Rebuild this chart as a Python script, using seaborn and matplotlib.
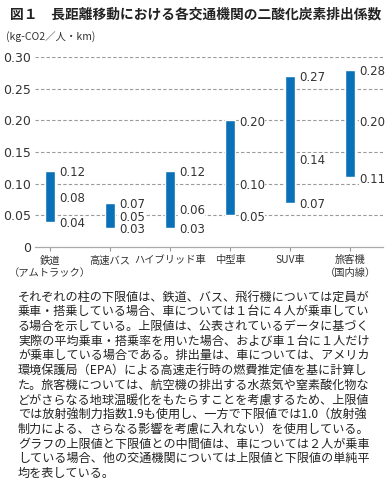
# %%
# 長距離移動における各交通機関の二酸化炭素排出係数
import numpy as np
import pandas as pd
import matplotlib
matplotlib.use('Agg')
import matplotlib.pyplot as plt
import seaborn as sns

# %%
# データ
categorias = ['鉄道\n（アムトラック）', '高速バス', 'ハイブリッド車', '中型車', 'SUV車', '旅客機\n（国内線）']
limite_inferior = [0.04, 0.03, 0.03, 0.05, 0.07, 0.11]
valor_medio = [0.08, 0.05, 0.06, 0.10, 0.14, 0.20]
limite_superior = [0.12, 0.07, 0.12, 0.20, 0.27, 0.28]
ticks_y = [0, 0.05, 0.10, 0.15, 0.20, 0.25, 0.30]
rotulos_y = ['0', '0.05', '0.10', '0.15', '0.20', '0.25', '0.30']

titulo = '図１　長距離移動における各交通機関の二酸化炭素排出係数'
unidade = '(kg-CO2／人・km)'
nota = [
    'それぞれの柱の下限値は、鉄道、バス、飛行機については定員が',
    '乗車・搭乗している場合、車については１台に４人が乗車してい',
    'る場合を示している。上限値は、公表されているデータに基づく',
    '実際の平均乗車・搭乗率を用いた場合、および車１台に１人だけ',
    'が乗車している場合である。排出量は、車については、アメリカ',
    '環境保護局（EPA）による高速走行時の燃費推定値を基に計算し',
    'た。旅客機については、航空機の排出する水蒸気や窒素酸化物な',
    'どがさらなる地球温暖化をもたらすことを考慮するため、上限値',
    'では放射強制力指数1.9も使用し、一方で下限値では1.0（放射強',
    '制力による、さらなる影響を考慮に入れない）を使用している。',
    'グラフの上限値と下限値との中間値は、車については２人が乗車',
    'している場合、他の交通機関については上限値と下限値の単純平',
    '均を表している。',
]

df = pd.DataFrame({
    'categoria': categorias,
    'inferior': limite_inferior,
    'medio': valor_medio,
    'superior': limite_superior,
})
df['altura'] = df['superior'] - df['inferior']

# %%
sns.set_theme(style='white')
plt.rcParams['font.family'] = ['Noto Sans CJK JP', 'DejaVu Sans']

azul = '#0a70b8'
cinza_texto = '#333333'

fig = plt.figure(figsize=(3.85, 4.90), dpi=100)
ax = fig.add_axes([35 / 385, 1 - 247 / 490, (383 - 35) / 385, (247 - 57) / 490])

sns.barplot(data=df, x='categoria', y='altura', bottom=df['inferior'].values,
            color=azul, saturation=1, width=0.17, errorbar=None, ax=ax)

ax.set_xlim(-0.25, 5.55)
ax.set_ylim(0, 0.30)
ax.set_yticks(ticks_y)
ax.set_yticklabels(rotulos_y, family='DejaVu Sans', fontsize=9, color=cinza_texto)
ax.set_xlabel('')
ax.set_ylabel('')
ax.tick_params(axis='y', length=0, pad=3)
ax.tick_params(axis='x', length=3, width=0.8, color='#999999', labelsize=7.4,
               labelcolor=cinza_texto, pad=3, bottom=True)
for lbl in ax.get_xticklabels():
    lbl.set_linespacing(1.3)

for y in ticks_y[1:]:
    ax.axhline(y, color='#9a9a9a', lw=0.8, ls=(0, (3, 2)), zorder=0)

for lado in ['top', 'right', 'left']:
    ax.spines[lado].set_visible(False)
ax.spines['bottom'].set_color('#aaaaaa')
ax.spines['bottom'].set_linewidth(0.9)

# rótulos dos valores ao lado das barras
for i, linha in df.iterrows():
    for val in [linha['inferior'], linha['medio'], linha['superior']]:
        ax.text(i + 0.15, val - 0.003, f'{val:.2f}', family='DejaVu Sans',
                fontsize=8.5, color=cinza_texto, va='center', ha='left',
                bbox=dict(facecolor='white', edgecolor='none', pad=0.3))

# títulos
fig.text(10 / 385, 1 - 15 / 490, titulo, fontsize=9.9, fontweight='bold',
         color='#222222', va='center', ha='left')
fig.text(6 / 385, 1 - 37 / 490, unidade, fontsize=7.5, color=cinza_texto,
         va='center', ha='left', family=['Noto Sans CJK JP', 'DejaVu Serif'])

# nota de rodapé
y0 = 297
passo = 14.7
for k, linha in enumerate(nota):
    fig.text(18 / 385, 1 - (y0 + k * passo) / 490, linha, fontsize=8.7,
             color='#222222', va='center', ha='left')

plt.savefig('out.png', dpi=100)
